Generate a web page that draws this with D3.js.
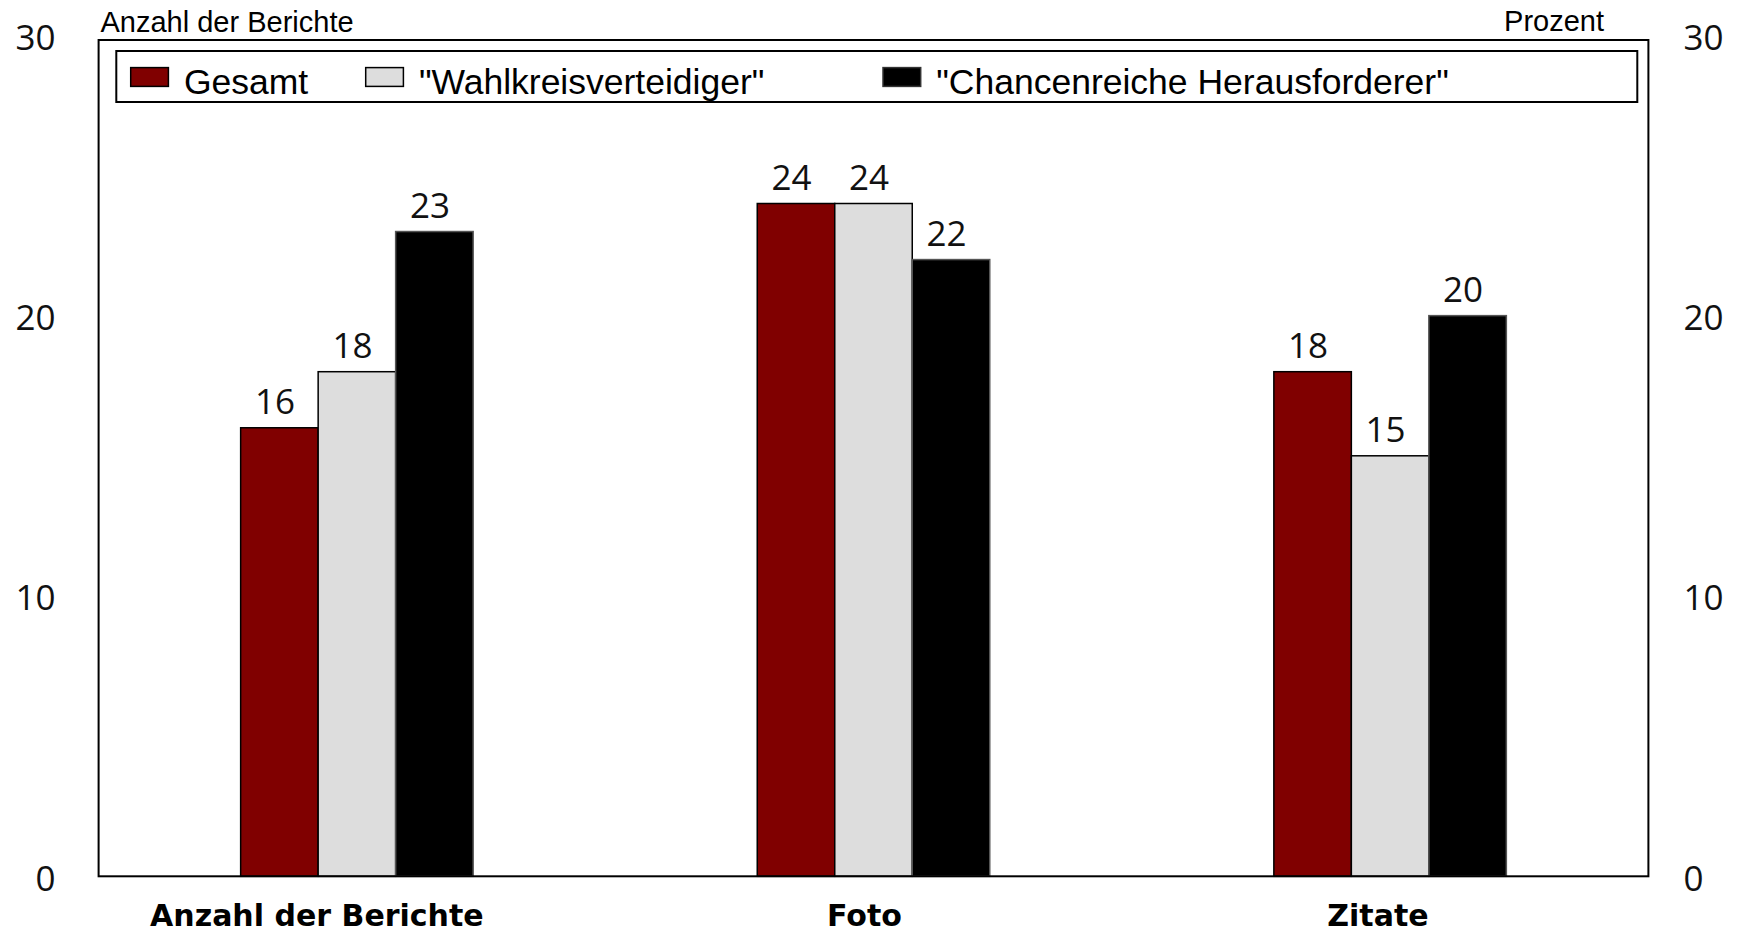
<!DOCTYPE html>
<html><head><meta charset="utf-8">
<script src="https://cdn.jsdelivr.net/npm/d3@7/dist/d3.min.js"></script>
<style>
html,body{margin:0;padding:0;background:#fff;}
svg{display:block;}
</style></head>
<body>
<svg id="chart" width="1737" height="933"></svg>
<script>
const categories = ["Anzahl der Berichte", "Foto", "Zitate"];
const seriesNames = ["Gesamt", "\"Wahlkreisverteidiger\"", "\"Chancenreiche Herausforderer\""];
const gesamt = [16, 24, 18];
const wahlkreisverteidiger = [18, 24, 15];
const herausforderer = [23, 22, 20];
const yTicks = [0, 10, 20, 30];
const leftAxisTitle = "Anzahl der Berichte";
const rightAxisTitle = "Prozent";

const seriesValues = [gesamt, wahlkreisverteidiger, herausforderer];
const colors = ["#800000", "#dddddd", "#000000"];
const strokes = ["#000", "#000", "#555"];

const svg = d3.select("#chart");
const m = {left: 98.6, right: 1648.4, top: 40, bottom: 876.3};

const x = d3.scaleBand().domain(categories).range([m.left, m.right]).padding(0);
const groupW = 232.5;
const xs = d3.scaleBand().domain(d3.range(seriesNames.length)).range([0, groupW]).padding(0);
const y = d3.scaleLinear().domain([0, 30]).range([m.bottom, 35.3]);

const tickFont = "'Open Sans', sans-serif";

// bars
seriesNames.forEach((s, si) => {
  const g = svg.append("g");
  g.selectAll("rect").data(categories).join("rect")
    .attr("x", c => x(c) + x.bandwidth()/2 - groupW/2 + xs(si))
    .attr("y", (c, i) => y(seriesValues[si][i]))
    .attr("width", xs.bandwidth())
    .attr("height", (c, i) => y(0) - y(seriesValues[si][i]))
    .attr("fill", colors[si])
    .attr("stroke", strokes[si])
    .attr("stroke-width", 1.5);
  g.selectAll("text").data(categories).join("text")
    .attr("x", c => x(c) + x.bandwidth()/2 - groupW/2 + xs(si) + xs.bandwidth()/2 - 4.5)
    .attr("y", (c, i) => y(seriesValues[si][i]) - 14)
    .attr("text-anchor", "middle")
    .attr("font-family", tickFont)
    .attr("font-size", 35)
    .attr("fill", "#111")
    .text((c, i) => seriesValues[si][i]);
});

// frame
svg.append("rect")
  .attr("x", m.left).attr("y", m.top)
  .attr("width", m.right - m.left).attr("height", m.bottom - m.top)
  .attr("fill", "none").attr("stroke", "#000").attr("stroke-width", 2);

// axes (labels only)
const leftAxis = d3.axisLeft(y).tickValues(yTicks).tickSize(0).tickPadding(43);
const gl = svg.append("g").attr("transform", `translate(${m.left},2.5)`).call(leftAxis);
const rightAxis = d3.axisRight(y).tickValues(yTicks).tickSize(0).tickPadding(35);
const gr = svg.append("g").attr("transform", `translate(${m.right},2.5)`).call(rightAxis);
[gl, gr].forEach(g => {
  g.select(".domain").remove();
  g.selectAll("text").attr("font-family", tickFont).attr("font-size", 35).attr("fill", "#111");
});

// category labels
const catAxis = svg.append("g");
catAxis.selectAll("text").data(categories).join("text")
  .attr("x", c => x(c) + x.bandwidth()/2)
  .attr("y", 926)
  .attr("text-anchor", "middle")
  .attr("font-family", "'DejaVu Sans', sans-serif")
  .attr("font-weight", "bold")
  .attr("font-size", 30)
  .attr("fill", "#000")
  .text(c => c)
  .each(function(){
    const w = this.getComputedTextLength();
    d3.select(this).attr("dx", -0.12 * w);
  });

// axis titles
svg.append("text").attr("x", 100.5).attr("y", 32)
  .attr("font-family", "'Liberation Sans', Arial, sans-serif").attr("font-size", 29)
  .text(leftAxisTitle);
svg.append("text").attr("x", 1604).attr("y", 31).attr("text-anchor", "end")
  .attr("font-family", "'Liberation Sans', Arial, sans-serif").attr("font-size", 29)
  .text(rightAxisTitle);

// legend
const lg = svg.append("g");
lg.append("rect").attr("x", 116.3).attr("y", 51).attr("width", 1521).attr("height", 51)
  .attr("fill", "#fff").attr("stroke", "#000").attr("stroke-width", 2);
const legendOffsets = [0, 235, 752.3];
seriesNames.forEach((s, i) => {
  const gx = 130.7 + legendOffsets[i];
  lg.append("rect").attr("x", gx).attr("y", 67.6).attr("width", 37.7).attr("height", 18.8)
    .attr("fill", colors[i]).attr("stroke", i === 2 ? "#333" : "#000").attr("stroke-width", 1.5);
  lg.append("text").attr("x", gx + 53.2).attr("y", 93.5)
    .attr("font-family", "'Liberation Sans', Arial, sans-serif").attr("font-size", 35.5)
    .attr("fill", "#000").text(s);
});
</script>
</body></html>
